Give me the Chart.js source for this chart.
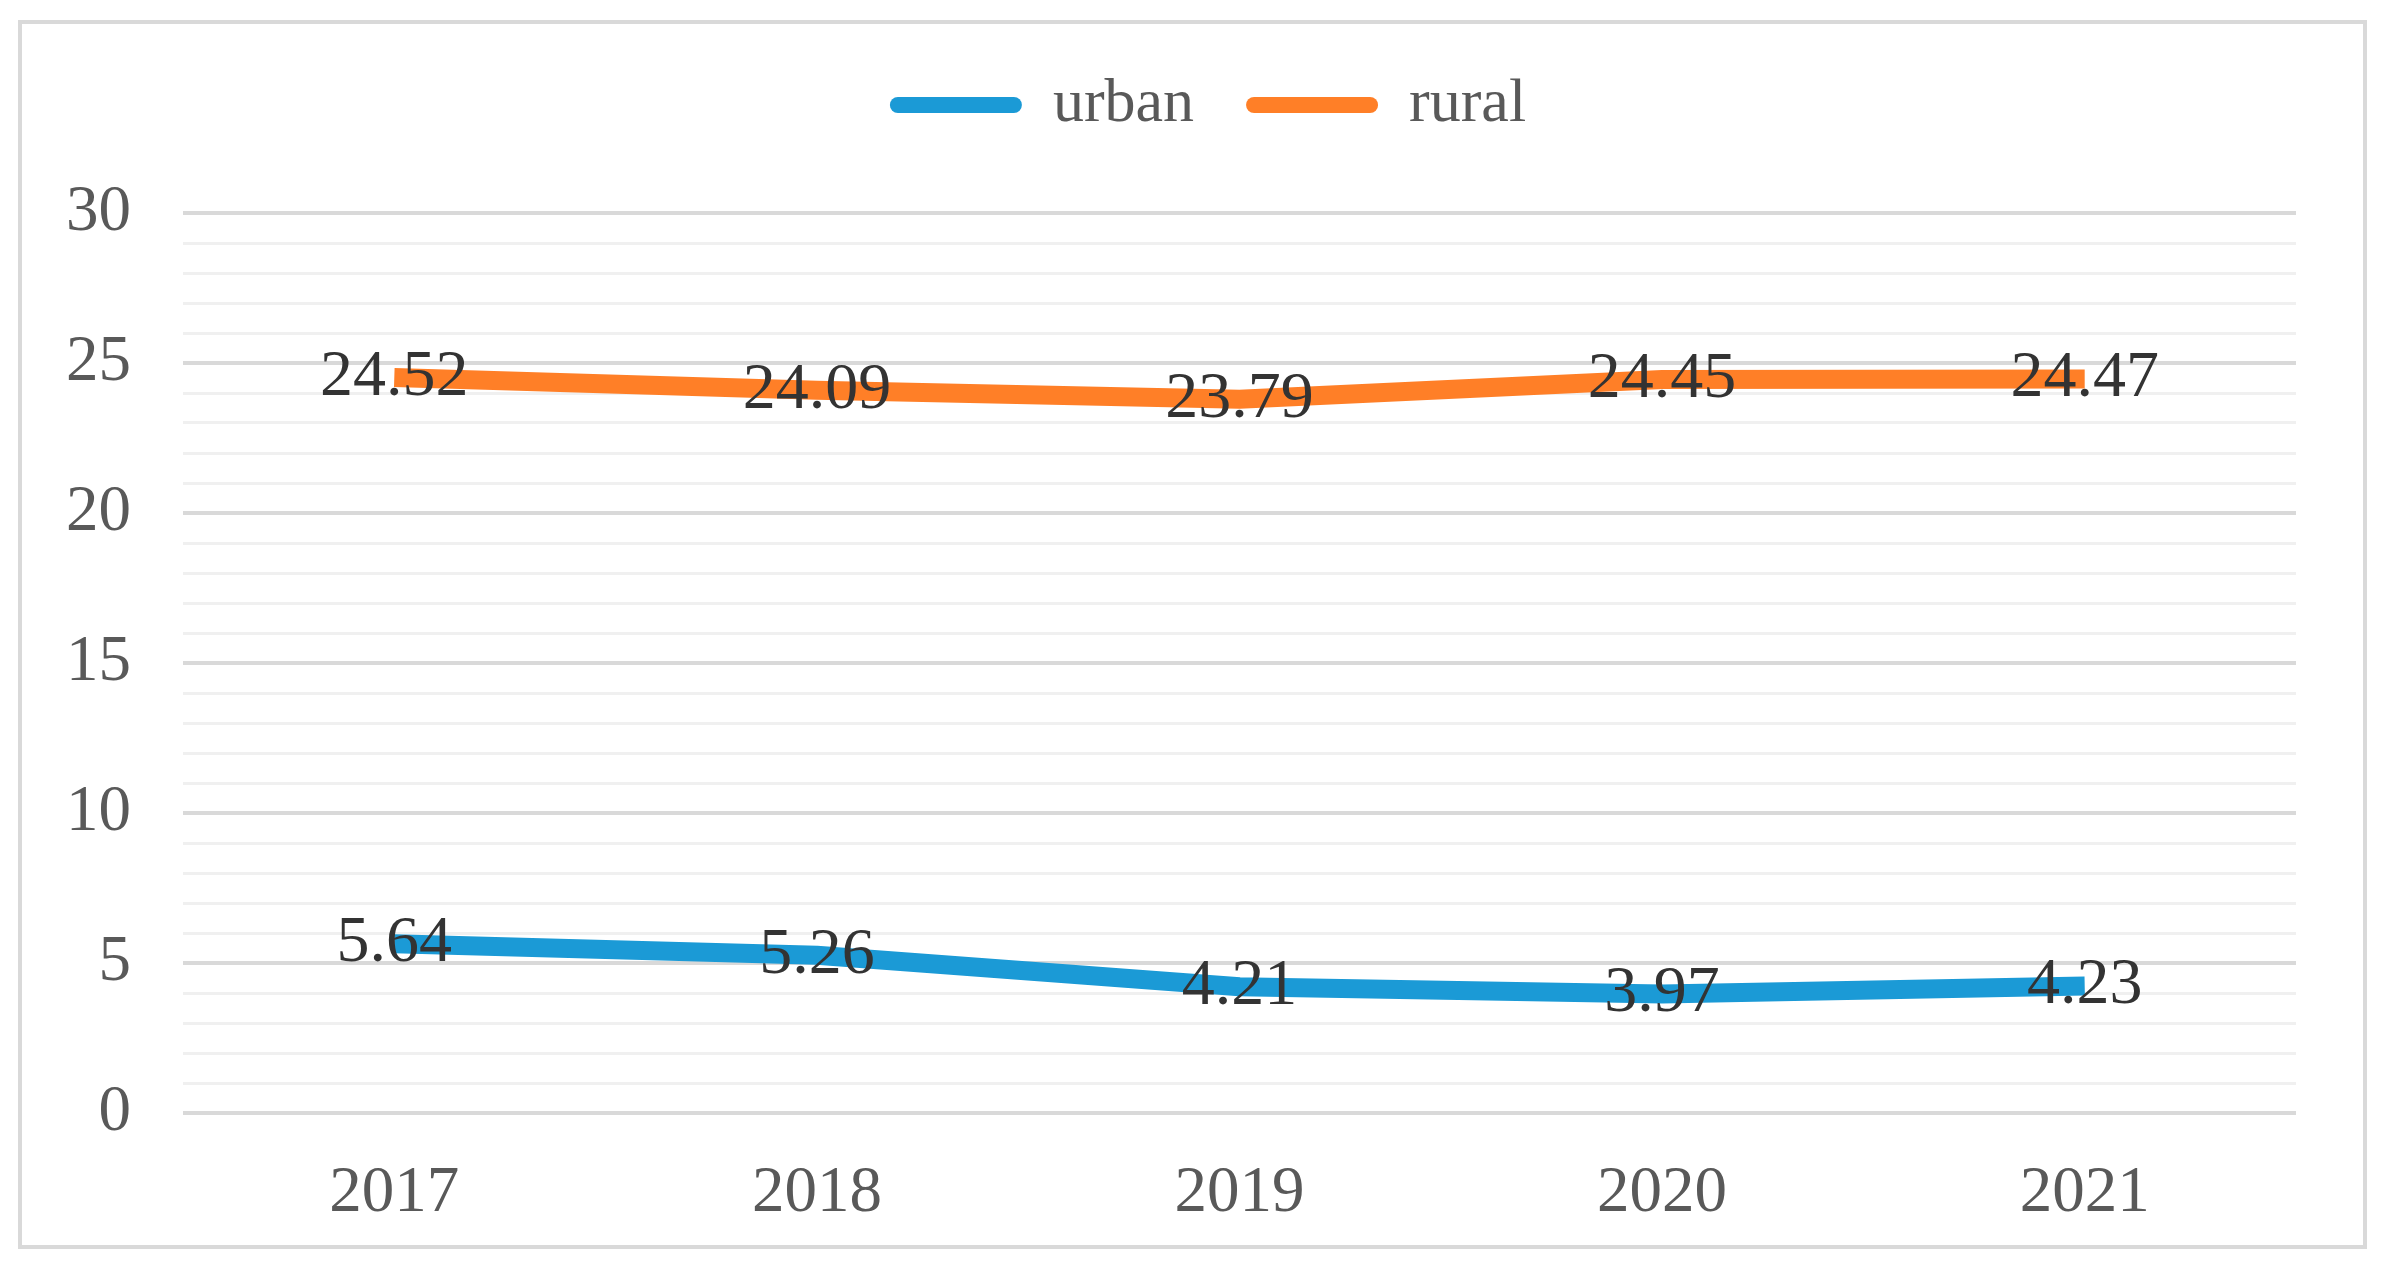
<!DOCTYPE html>
<html>
<head>
<meta charset="utf-8">
<script src="https://cdn.jsdelivr.net/npm/chart.js@4/dist/chart.umd.min.js"></script>
<style>
  html, body { margin: 0; padding: 0; background: #ffffff; }
  #wrap { position: relative; width: 2392px; height: 1268px; }
  #frame { position: absolute; left: 18px; top: 20px; width: 2349px; height: 1229px; border: 4px solid #d9d9d9; box-sizing: border-box; pointer-events: none; }
  canvas { position: absolute; left: 0; top: 0; }
</style>
</head>
<body>
<div id="wrap">
  <canvas id="c" width="2392" height="1268"></canvas>
  <div id="frame"></div>
</div>
<script>
const categories = ['2017', '2018', '2019', '2020', '2021'];
const urbanValues = [5.64, 5.26, 4.21, 3.97, 4.23];
const ruralValues = [24.52, 24.09, 23.79, 24.45, 24.47];
const seriesNames = ['urban', 'rural'];
const yTickLabels = [0, 5, 10, 15, 20, 25, 30];

const FONT = 'Liberation Serif';

const valueLabels = {
  id: 'valueLabels',
  afterDatasetsDraw(chart) {
    const ctx = chart.ctx;
    ctx.save();
    ctx.font = '66px "' + FONT + '"';
    ctx.fillStyle = '#333333';
    ctx.textAlign = 'center';
    ctx.textBaseline = 'middle';
    chart.data.datasets.forEach((ds, i) => {
      const meta = chart.getDatasetMeta(i);
      meta.data.forEach((pt, j) => {
        ctx.fillText(ds.data[j].toFixed(2), pt.x, pt.y);
      });
    });
    ctx.restore();
  }
};

const legendTweak = {
  id: 'legendTweak',
  beforeInit(chart) {
    const origFit = chart.legend.fit;
    chart.legend.fit = function () {
      origFit.call(this);
      this.height = 213 - 22;
    };
  },
  afterLayout(chart) {
    chart.legend.left += 60;
    chart.legend.right += 60;
  }
};

new Chart(document.getElementById('c'), {
  type: 'line',
  data: {
    labels: categories,
    datasets: [
      { label: seriesNames[0], data: urbanValues, borderColor: '#1b9ad6', backgroundColor: '#1b9ad6' },
      { label: seriesNames[1], data: ruralValues, borderColor: '#ff7f27', backgroundColor: '#ff7f27' }
    ]
  },
  options: {
    responsive: false,
    animation: false,
    devicePixelRatio: 1,
    layout: { padding: { top: 22, left: 0, right: 96, bottom: 0 } },
    elements: {
      line: { borderWidth: 19, tension: 0, borderCapStyle: 'butt', borderJoinStyle: 'round' },
      point: { radius: 0, hoverRadius: 0 }
    },
    plugins: {
      tooltip: { enabled: false },
      legend: {
        position: 'top',
        labels: {
          font: { family: FONT, size: 62 },
          color: '#595959',
          boxWidth: 132,
          boxHeight: 16,
          padding: 52,
          useBorderRadius: true,
          borderRadius: 8,
          generateLabels(chart) {
            return Chart.defaults.plugins.legend.labels.generateLabels(chart)
              .map(l => Object.assign({}, l, { lineWidth: 0 }));
          }
        }
      }
    },
    scales: {
      x: {
        offset: true,
        grid: { display: false },
        border: { display: false },
        ticks: { font: { family: FONT, size: 65 }, color: '#595959', padding: 34 },
        afterFit(scale) { scale.height = 155; }
      },
      y: {
        min: 0,
        max: 30,
        border: { display: false },
        grid: {
          drawTicks: false,
          color: (c) => (c.tick && c.tick.value % 5 === 0 ? '#d9d9d9' : '#f0f0f0'),
          lineWidth: (c) => (c.tick && c.tick.value % 5 === 0 ? 4 : 3)
        },
        ticks: {
          stepSize: 1,
          autoSkip: false,
          padding: 52,
          font: { family: FONT, size: 65 },
          color: '#595959',
          callback: (v) => (yTickLabels.includes(v) ? String(v) : '')
        },
        afterFit(scale) { scale.width = 183; }
      }
    }
  },
  plugins: [valueLabels, legendTweak]
});
</script>
</body>
</html>
